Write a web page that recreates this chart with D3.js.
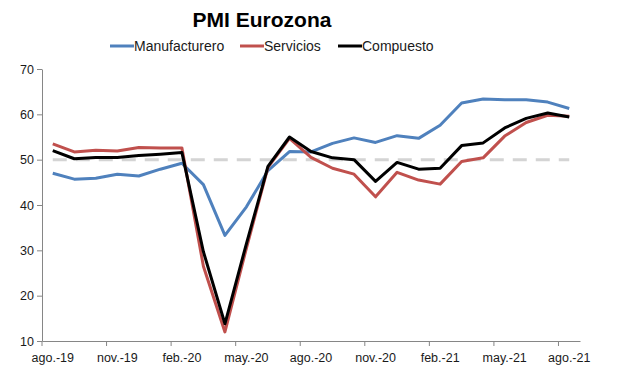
<!DOCTYPE html>
<html>
<head>
<meta charset="utf-8">
<script src="https://cdn.jsdelivr.net/npm/d3@7"></script>
<style>
  body { margin: 0; background: #fff; }
  text { font-family: "Liberation Sans", Arial, sans-serif; }
</style>
</head>
<body>
<div class="canvas"></div>
<script>
// months ago.-19 .. ago.-21
const months = ['ago.-19','sep.-19','oct.-19','nov.-19','dic.-19','ene.-20','feb.-20','mar.-20','abr.-20','may.-20','jun.-20','jul.-20',
  'ago.-20','sep.-20','oct.-20','nov.-20','dic.-20','ene.-21','feb.-21','mar.-21','abr.-21','may.-21','jun.-21','jul.-21','ago.-21'];
const manufacturero = [47.0,45.7,45.9,46.8,46.4,47.9,49.2,44.5,33.3,39.6,47.6,51.8,51.7,53.6,54.8,53.8,55.3,54.7,57.6,62.5,63.4,63.2,63.2,62.7,61.3];
const servicios     = [53.5,51.7,52.1,51.9,52.7,52.6,52.6,26.5,12.0,30.5,48.3,54.7,50.5,48.1,46.8,41.8,47.2,45.5,44.6,49.6,50.4,55.2,58.2,59.8,59.6];
const compuesto     = [52.0,50.2,50.5,50.5,50.9,51.2,51.6,29.7,13.8,31.5,48.5,55.0,51.8,50.4,50.0,45.2,49.4,47.9,48.1,53.1,53.7,57.0,59.1,60.3,59.4];
const umbral = 50;
const yTicks = [10,20,30,40,50,60,70];
const xTickLabels = ['ago.-19','nov.-19','feb.-20','may.-20','ago.-20','nov.-20','feb.-21','may.-21','ago.-21'];

const series = [
  { name: 'Manufacturero', values: manufacturero, color: '#4f81bd' },
  { name: 'Servicios', values: servicios, color: '#c0504d' },
  { name: 'Compuesto', values: compuesto, color: '#000000' }
];

const width = 617, height = 382;
const margin = { top: 69, right: 37, bottom: 41, left: 42 };
const graphWidth = width - margin.left - margin.right;
const graphHeight = height - margin.top - margin.bottom;

const svg = d3.select('.canvas')
  .append('svg')
   .attr('width', width)
   .attr('height', height);

const graph = svg.append('g')
  .attr('transform', `translate(${margin.left}, ${margin.top})`);

const x = d3.scaleBand()
  .domain(months)
  .range([0, graphWidth])
  .padding(0);

const y = d3.scaleLinear()
  .domain([10, 70])
  .range([graphHeight, 0]);

const cx = d => x(d) + x.bandwidth() / 2;

//threshold dashed line at 50
graph.append('line')
  .attr('x1', cx(months[0]))
  .attr('x2', cx(months[months.length - 1]))
  .attr('y1', y(umbral))
  .attr('y2', y(umbral))
  .attr('stroke', '#d4d4d4')
  .attr('stroke-width', 3)
  .attr('stroke-dasharray', '14,9');

//axes
const xAxis = d3.axisBottom(x)
  .tickValues(xTickLabels)
  .tickSize(5)
  .tickSizeOuter(0);
const yAxis = d3.axisLeft(y)
  .tickValues(yTicks)
  .tickSize(5)
  .tickSizeOuter(0);

const xAxisGroup = graph.append('g')
  .attr('transform', `translate(0, ${graphHeight})`)
  .call(xAxis);
const yAxisGroup = graph.append('g').call(yAxis);

//tick marks sit on band edges, labels stay centred
xAxisGroup.selectAll('.tick line')
  .attr('x1', -x.bandwidth() / 2)
  .attr('x2', -x.bandwidth() / 2);

[xAxisGroup, yAxisGroup].forEach(g => {
  g.select('.domain').attr('stroke', '#868686');
  g.selectAll('.tick line').attr('stroke', '#868686');
  g.selectAll('text')
    .style('font-size', '12.5px')
    .style('font-family', '"Liberation Sans", Arial, sans-serif')
    .attr('fill', '#1a1a1a');
});
xAxisGroup.selectAll('text').attr('dy', '1.05em');
yAxisGroup.selectAll('text').attr('x', -8);

//lines
const line = d3.line()
  .x((d, i) => cx(months[i]))
  .y(d => y(d));

graph.selectAll('.serie')
  .data(series)
  .enter()
  .append('path')
   .attr('class', 'serie')
   .attr('d', d => line(d.values))
   .attr('fill', 'none')
   .attr('stroke', d => d.color)
   .attr('stroke-width', 3)
   .attr('stroke-linejoin', 'round');

//title
svg.append('text')
  .attr('x', 262)
  .attr('y', 27)
  .attr('text-anchor', 'middle')
  .style('font-size', '21px')
  .style('font-weight', 'bold')
  .text('PMI Eurozona');

//legend
const legendX = [110, 240, 338];
const legend = svg.selectAll('.legend')
  .data(series)
  .enter()
  .append('g')
   .attr('class', 'legend')
   .attr('transform', (d, i) => `translate(${legendX[i]}, 46)`);

legend.append('line')
  .attr('x1', 0).attr('x2', 24)
  .attr('stroke', d => d.color)
  .attr('stroke-width', 3);

legend.append('text')
  .attr('x', 24)
  .attr('y', 5)
  .style('font-size', '14px')
  .attr('fill', '#1a1a1a')
  .text(d => d.name);
</script>
</body>
</html>
